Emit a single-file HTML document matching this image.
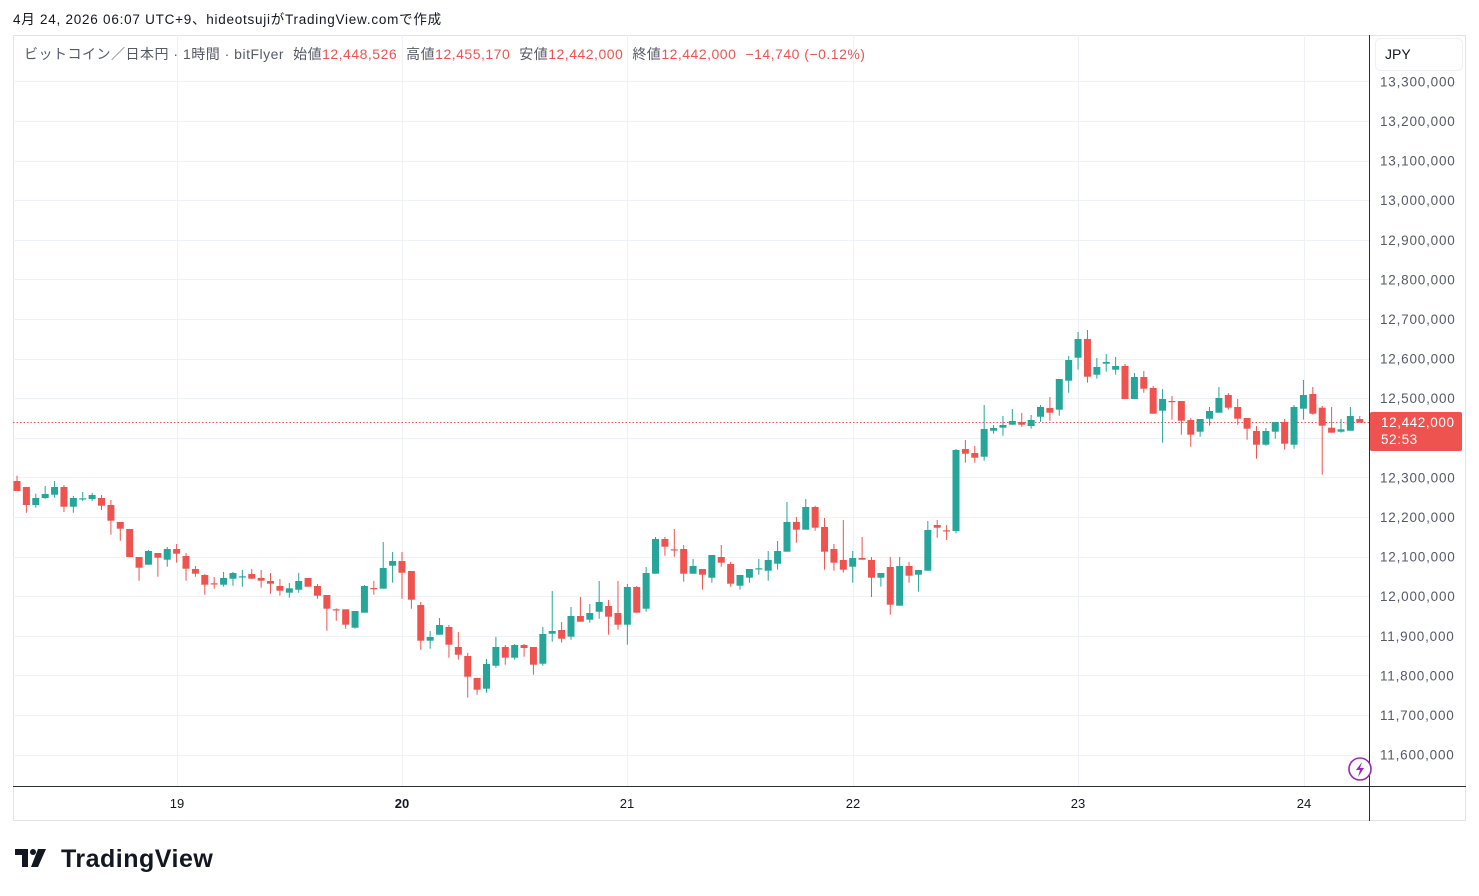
<!DOCTYPE html>
<html><head><meta charset="utf-8"><style>
body{margin:0;width:1479px;height:896px;background:#fff;overflow:hidden;font-family:"Liberation Sans","Noto Sans CJK JP",sans-serif;}
</style></head><body>
<svg id="s" width="1479" height="896" xmlns="http://www.w3.org/2000/svg" style="position:absolute;left:0;top:0">
<text x="13" y="24" font-size="13.5" letter-spacing="0.75" fill="#131722" font-family="Liberation Sans, Noto Sans CJK JP, sans-serif">4月 24, 2026 06:07 UTC+9、hideotsujiがTradingView.comで作成</text>
<rect x="13.5" y="35.5" width="1452" height="785" fill="none" stroke="#e0e3eb"/>
<g id="grid" stroke="#eef1f6" stroke-width="1"></g>
<line x1="13" y1="422.5" x2="1369" y2="422.5" stroke="#ef5350" stroke-width="1" stroke-dasharray="1.5 2"/>
<g id="candles"></g>
<line x1="1369.5" y1="35" x2="1369.5" y2="821" stroke="#2a2e39" stroke-width="1"/>
<line x1="13" y1="786.5" x2="1466" y2="786.5" stroke="#2a2e39" stroke-width="1"/>
<g id="plabels" font-size="13.5" letter-spacing="0.8" fill="#555a66" font-family="Liberation Sans, sans-serif"></g>
<g font-size="13" fill="#131722" text-anchor="middle" font-family="Liberation Sans, sans-serif">
<text x="177" y="808">19</text><text x="402" y="808" font-weight="bold">20</text><text x="627" y="808">21</text><text x="853" y="808">22</text><text x="1078" y="808">23</text><text x="1304" y="808">24</text>
</g>
<rect x="1375.5" y="38.5" width="87" height="32" rx="5" fill="#fff" stroke="#eef0f3"/>
<text x="1385" y="59" font-size="14" fill="#131722">JPY</text>
<rect x="1370" y="412" width="92" height="39" rx="2" fill="#ef5350"/>
<text x="1381" y="427" font-size="13.5" letter-spacing="0.6" fill="#fff">12,442,000</text>
<text x="1381" y="444" font-size="13.5" letter-spacing="0.6" fill="#fff">52:53</text>
<text x="24" y="59" font-size="14" letter-spacing="0.5" fill="#555a66" font-family="Liberation Sans, Noto Sans CJK JP, sans-serif">ビットコイン／日本円 · 1時間 · bitFlyer<tspan fill="#555a66" dx="9">始値</tspan><tspan fill="#ef5350">12,448,526</tspan><tspan fill="#555a66" dx="9">高値</tspan><tspan fill="#ef5350">12,455,170</tspan><tspan fill="#555a66" dx="9">安値</tspan><tspan fill="#ef5350">12,442,000</tspan><tspan fill="#555a66" dx="9">終値</tspan><tspan fill="#ef5350">12,442,000</tspan><tspan fill="#ef5350" dx="9">−14,740 (−0.12%)</tspan></text>
<circle cx="1360" cy="769" r="11" fill="#fff" stroke="#9c27b0" stroke-width="1.6"/>
<path d="M1362 762 L1356 770 L1360 770 L1358 777 L1364 768 L1360 768 Z" fill="#9c27b0"/>
<g fill="#131722"><path d="M15 849 h13 v18 h-6 v-12 h-7z"/><circle cx="33" cy="852" r="3"/><path d="M38 849 h8 l-8 18 h-7z"/></g>
<text x="61" y="867" font-size="25" letter-spacing="0.5" font-weight="bold" fill="#131722" font-family="Liberation Sans, sans-serif">TradingView</text>
</svg>
<script>
var D=[
[481,491,475.7,491,'r'],[487,505,487,512.7,'r'],[505,498,493.7,507.7,'g'],[498,494,486,499,'g'],[494.7,487,481,497.7,'g'],
[487,506.7,485,512,'r'],[506.7,498,496,512.7,'g'],[498.3,498.3,492,501,'g'],[499,495,493,501,'g'],[498,505.7,495,510,'r'],
[505,520.7,500,534.7,'r'],[522,528.7,522,540.7,'r'],[529,557,529,557,'r'],[557,567.7,557,580.7,'r'],[564.7,551,550,564.7,'g'],
[553,557.7,553,576.7,'r'],[559.7,549,547,566.7,'g'],[549,553.7,544,562.7,'r'],[556,568.7,553,580.7,'r'],[569,573.7,566,576.7,'r'],
[575,584.7,574,594.7,'r'],[583.3,583.3,577,588.7,'r'],[584.7,578,572,586.7,'g'],[578.7,573,572,585.7,'g'],[576.3,576.3,570,586.7,'g'],
[574,578.7,569,578.7,'r'],[578,580.7,570,587.7,'r'],[581,583.7,573,593.7,'r'],[586,590.7,579,595.7,'r'],[592.7,588.3,583,597.7,'g'],
[589.7,581,573,592.7,'g'],[578,586.7,578,586.7,'r'],[586,595.7,584,598.7,'r'],[595,608.7,595,630.7,'r'],[609.3,609.3,608.3,620.7,'r'],
[609.3,624.7,609.3,628.7,'r'],[627.7,611,611,628.7,'g'],[612.7,586,585,612.7,'g'],[588,588,581,594.7,'r'],[588.7,568,542,588.7,'g'],
[565.7,561,552,582.7,'g'],[561,572.7,552,598.7,'r'],[571,599.7,571,608.7,'r'],[605,640.7,602,649.7,'r'],[640.7,637,631,648.7,'g'],
[634.7,625,618,634.7,'g'],[627,644.7,625,657.7,'r'],[647,654.7,632,659.7,'r'],[656,676.7,653,697.7,'r'],[678,689.7,678,694.7,'r'],
[688.7,664,659,692.7,'g'],[665.7,647,637,667.7,'g'],[647,657.7,645,664.7,'r'],[657.7,645,644,659.7,'g'],[645,648,644,656.7,'r'],
[647,664.7,647,674.7,'r'],[663.7,634,627,665.7,'g'],[633.7,631,591,641.7,'g'],[630,638.7,622,642.7,'r'],[636.7,616,607,639.7,'g'],
[616,621.7,597,621.7,'r'],[619.7,613,604,622.7,'g'],[611.7,602,581,618.7,'g'],[606,616.7,600,634.7,'r'],[613,624.7,581,629.7,'r'],
[624.7,587,584,644.7,'g'],[587,612.7,586,612.7,'r'],[608.7,573,567,611.7,'g'],[573.7,539,537,573.7,'g'],[539,546.7,537,555.7,'r'],
[549.3,549.3,529,556.7,'r'],[549,573.7,545,581.7,'r'],[573.7,566,559,573.7,'g'],[569,574.7,569,589.7,'r'],[577.7,555,555,582.7,'g'],
[557,562.7,545,566.7,'r'],[564,583.7,562,586.7,'r'],[585.7,575,575,589.7,'g'],[577.7,569,569,582.7,'g'],[568.3,568.3,559,574.7,'g'],
[570.7,560,551,580.7,'g'],[563.7,551,541,569.7,'g'],[551.7,522,502,551.7,'g'],[522,529.7,517,542.7,'r'],[529.7,507,499,529.7,'g'],
[507,527.7,505.7,530.7,'r'],[527,551.7,518,569.7,'r'],[549,562.7,544,570.7,'r'],[560,569.7,520,572.7,'r'],[566.7,558,551,582.7,'g'],
[558,559.7,537,559.7,'r'],[560,577.7,557,597,'r'],[577.7,573,573,586.7,'g'],[567,604.7,557,614.7,'r'],[605.7,566,557,605.7,'g'],
[566,575.7,562,582.7,'r'],[574.7,570,570,591.7,'g'],[570.7,530,521,570.7,'g'],[525,527.7,520,537.7,'r'],[530.3,530.3,525,540,'r'],
[531,450,449,533.3,'g'],[449,453.7,440,462.7,'r'],[453,457.7,446,462.7,'r'],[456.7,429,405,460.7,'g'],[430.7,428,425,433.7,'g'],
[427.7,425,416,435.7,'g'],[424.7,421,409,424.7,'g'],[422,424.7,413,426.7,'r'],[426,420,415,428.7,'g'],[416.7,407,405,421.7,'g'],
[408,412.7,397,420.7,'r'],[409.7,379,379,415.7,'g'],[380.7,360,356,392.7,'g'],[357.7,339,332,369.7,'g'],[339,376.7,330,382.7,'r'],
[374.7,367,358,378.7,'g'],[363.7,362,354,371.7,'g'],[369.7,366,357,374.7,'g'],[366,399,364,399,'r'],[399,377,373,399,'g'],
[377,388.7,371,392.7,'r'],[388,413.7,386,413.7,'r'],[410.7,399,389,442.7,'g'],[401,401,396,419.7,'r'],[401,420.7,401,434.7,'r'],
[420,434.7,418,446.7,'r'],[431.7,419,419,436.7,'g'],[418.7,411,407,425.7,'g'],[412.7,398,387,412.7,'g'],[395,407.7,393,409.7,'r'],
[407,418.7,399,424.7,'r'],[418,428.7,418,439.7,'r'],[431,444.7,426,458.7,'r'],[444.7,431,428,445.7,'g'],[431.7,422,422,438.7,'g'],
[422,443.7,419,449.7,'r'],[444.7,407,405,448.7,'g'],[408.7,395,380,419.7,'g'],[394,413.7,387,414.7,'r'],[407.7,425.7,406,474.7,'r'],
[427.7,432.7,407,432.7,'r'],[431.7,429.3,419,432.7,'g'],[430.7,416,407,430.7,'g'],[419,422.7,416,422.7,'r']
];
var NS="http://www.w3.org/2000/svg";
function el(t,a,p){var e=document.createElementNS(NS,t);for(var k in a)e.setAttribute(k,a[k]);p.appendChild(e);return e;}
var g=document.getElementById('candles'),gr=document.getElementById('grid'),pl=document.getElementById('plabels');
for(var i=0;i<18;i++){var p=13300000-i*100000,y=81.4+i*39.6;
 el('line',{x1:13,y1:Math.round(y)+.5,x2:1369,y2:Math.round(y)+.5},gr);
 var t=el('text',{x:1380,y:y+5},pl);t.textContent=p.toLocaleString('en-US');}
[177,402,627,853,1078,1304].forEach(function(x){el('line',{x1:x+.5,y1:35,x2:x+.5,y2:786},gr);});
D.forEach(function(d,i){var x=17+i*9.39,c=d[4]=='g'?'#26a69a':'#ef5350';
 el('rect',{x:x-0.5,y:d[2],width:1,height:Math.max(1,d[3]-d[2]),fill:c},g);
 var top=Math.min(d[0],d[1]),h=Math.max(1.2,Math.abs(d[0]-d[1]));
 el('rect',{x:x-3.5,y:top,width:7,height:h,fill:c},g);});
</script>
</body></html>
